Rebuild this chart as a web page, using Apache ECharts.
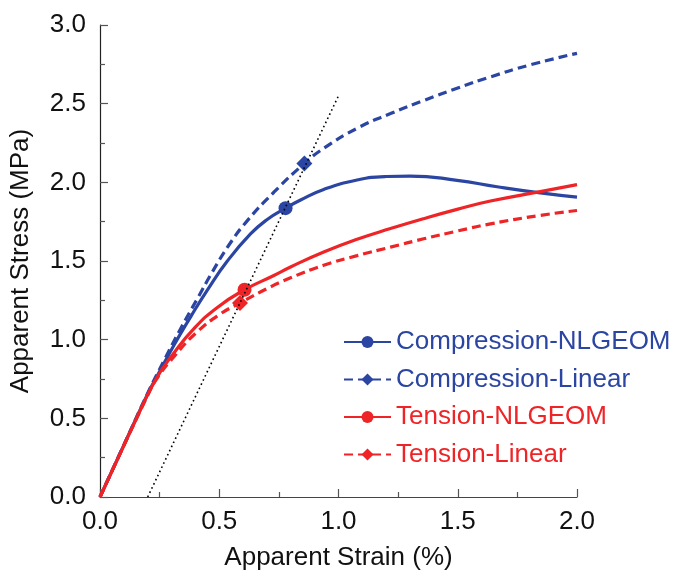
<!DOCTYPE html>
<html>
<head>
<meta charset="utf-8">
<script src="https://cdn.jsdelivr.net/npm/echarts@6/dist/echarts.min.js"></script>
<style>
html,body{margin:0;padding:0;background:#fff;}
#c{width:676px;height:576px;}
</style>
</head>
<body>
<div id="c"></div>
<script>
// ---- data (strain %, stress MPa) ----
const seriesNames = ['Compression-NLGEOM', 'Compression-Linear', 'Tension-NLGEOM', 'Tension-Linear'];

const compNL = [[0,0],[0.1,0.33],[0.2,0.655],[0.233,0.75],[0.31,0.965],[0.38,1.145],[0.45,1.315],[0.534,1.5],[0.631,1.672],[0.701,1.764],[0.778,1.836],[0.841,1.888],[0.938,1.955],[1.078,2.015],[1.2,2.037],[1.3,2.04],[1.497,2.013],[1.665,1.972],[1.846,1.933],[2.0,1.906]];
const compLin = [[0,0],[0.1,0.33],[0.2,0.66],[0.268,0.866],[0.338,1.07],[0.408,1.26],[0.471,1.43],[0.54,1.6],[0.617,1.755],[0.729,1.937],[0.857,2.12],[0.937,2.215],[1.08,2.345],[1.218,2.437],[1.357,2.52],[1.497,2.598],[1.637,2.67],[1.8,2.745],[2.0,2.82]];
const tensNL = [[0,0],[0.1,0.327],[0.142,0.464],[0.233,0.745],[0.31,0.915],[0.394,1.07],[0.492,1.205],[0.606,1.317],[0.729,1.408],[0.799,1.462],[0.938,1.557],[1.078,1.638],[1.218,1.706],[1.357,1.769],[1.497,1.828],[1.637,1.881],[1.846,1.941],[2.0,1.985]];
const tensLin = [[0,0],[0.1,0.327],[0.2,0.645],[0.233,0.74],[0.31,0.892],[0.408,1.05],[0.506,1.165],[0.587,1.233],[0.701,1.325],[0.799,1.393],[0.938,1.473],[1.078,1.534],[1.218,1.588],[1.357,1.641],[1.497,1.69],[1.637,1.736],[1.846,1.79],[2.0,1.821]];
// strain at which each series carries its marker (yield point)
const markerX = [0.778, 0.857, 0.606, 0.587];
// 0.2 % offset line
const offsetLine = [[0.2,0],[1.0,2.55]];

const xTicks = [0, 0.5, 1.0, 1.5, 2.0];
const yTicks = [0, 0.5, 1.0, 1.5, 2.0, 2.5, 3.0];

// ---- styling ----
const BLUE = '#2b45a2';
const RED = '#ee2427';
const colors = [BLUE, BLUE, RED, RED];
const symbols = ['circle', 'diamond', 'circle', 'diamond'];
const symSizes = [14, 16, 14, 16];
const dashes = ['solid', [9,5], 'solid', [9,5]];
const allData = [compNL, compLin, tensNL, tensLin];

function buildData(arr, mx) {
  return arr.map(p => p[0] === mx ? {value: p} : {value: p, symbol: 'none'});
}

const series = allData.map((arr, i) => ({
  name: seriesNames[i],
  type: 'line',
  data: buildData(arr, markerX[i]),
  symbol: symbols[i],
  symbolSize: symSizes[i],
  showSymbol: true,
  showAllSymbol: true,
  smooth: 0.5,
  lineStyle: {color: colors[i], width: 3.2, type: dashes[i], cap: 'butt'},
  itemStyle: {color: colors[i]},
  z: 2 + i
}));
series.push({
  name: 'offset',
  type: 'line',
  data: offsetLine,
  symbol: 'none',
  lineStyle: {color: '#000', width: 1.6, type: [1.6, 3]},
  z: 10
});

const chart = echarts.init(document.getElementById('c'), null, {renderer: 'canvas'});
const FONT = 'Liberation Sans, Arial, sans-serif';
chart.setOption({
  animation: false,
  backgroundColor: '#fff',
  grid: {left: 99, right: 99, top: 25, bottom: 75},
  legend: {
    orient: 'vertical',
    left: 338,
    top: 324,
    padding: 5,
    itemWidth: 47,
    itemHeight: 15,
    itemGap: 11.5,
    data: [
      {name: seriesNames[0], textStyle: {color: BLUE}},
      {name: seriesNames[1], textStyle: {color: BLUE}},
      {name: seriesNames[2], textStyle: {color: RED}},
      {name: seriesNames[3], textStyle: {color: RED}}
    ],
    textStyle: {fontSize: 26, fontFamily: FONT}
  },
  xAxis: {
    type: 'value',
    min: xTicks[0], max: xTicks[xTicks.length-1], interval: 0.5,
    name: 'Apparent Strain (%)',
    nameLocation: 'middle',
    nameGap: 48,
    nameTextStyle: {fontSize: 26, fontFamily: FONT, color: '#111'},
    axisLine: {show: true, lineStyle: {color: '#444', width: 1.2}},
    axisTick: {show: true, inside: true, length: 8, lineStyle: {color: '#555', width: 1.2}},
    minorTick: {show: true, splitNumber: 2, length: 5, lineStyle: {color: '#555', width: 1.2}},
    axisLabel: {fontSize: 26, fontFamily: FONT, color: '#111', margin: 12, formatter: v => v.toFixed(1)},
    splitLine: {show: false}
  },
  yAxis: {
    type: 'value',
    min: yTicks[0], max: yTicks[yTicks.length-1], interval: 0.5,
    name: 'Apparent Stress (MPa)',
    nameLocation: 'middle',
    nameGap: 66,
    nameTextStyle: {fontSize: 26, fontFamily: FONT, color: '#111'},
    axisLine: {show: true, lineStyle: {color: '#222', width: 1.2}},
    axisTick: {show: true, inside: true, length: 8, lineStyle: {color: '#555', width: 1.2}},
    minorTick: {show: true, splitNumber: 2, length: 5, lineStyle: {color: '#555', width: 1.2}},
    axisLabel: {fontSize: 26, fontFamily: FONT, color: '#111', margin: 14, formatter: v => v.toFixed(1)},
    splitLine: {show: false}
  },
  series: series
});
</script>
</body>
</html>
